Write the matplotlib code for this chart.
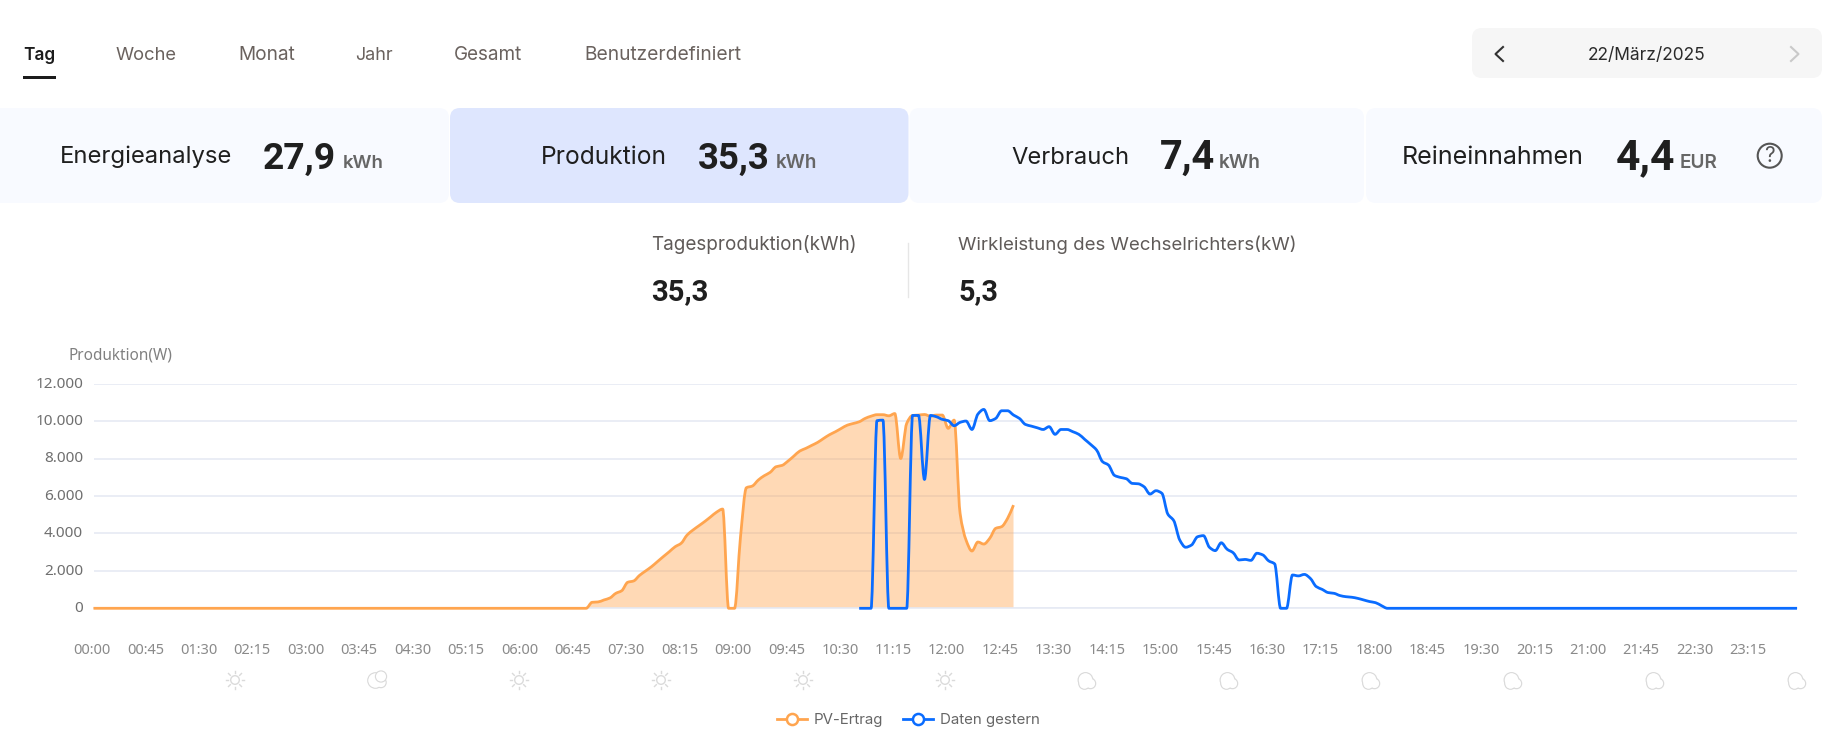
import numpy as np
import matplotlib
matplotlib.use("Agg")
import matplotlib.pyplot as plt
from matplotlib.patches import FancyBboxPatch, Circle, Rectangle, PathPatch
from matplotlib.path import Path
from matplotlib.lines import Line2D
from matplotlib.ticker import FuncFormatter
from matplotlib.transforms import ScaledTranslation

W, H = 1837, 738
DPI = 100

# ---------- data ----------
STEP_MIN = 5
pv_leading_zeros = [0] * 83            # 00:00 .. 06:50
pv_day = [0, 320, 340, 445, 550, 800, 940, 1390, 1460, 1760, 1990, 2220, 2490, 2760,
          3020, 3290, 3470, 3910, 4180, 4410, 4640, 4890, 5140, 5300, 0, 0, 3800, 6440,
          6530, 6850, 7080, 7260, 7560, 7630, 7860, 8130, 8400, 8540, 8700, 8860, 9070,
          9270, 9430, 9610, 9780, 9870, 9960, 10140, 10260, 10340, 10340, 10280, 10400,
          8000, 9870, 10300, 10320, 10350, 10260, 10320, 10320, 9610, 10050, 5070, 3650,
          3060, 3540, 3430, 3740, 4270, 4360, 4800, 5510]
pv_values = pv_leading_zeros + pv_day

yesterday_start_index = 129            # 10:45
yesterday_day = [0, 0, 0, 10020, 10050, 0, 0, 0, 0, 10300, 10300, 6880, 10300, 10230,
                 10090, 10020, 9750, 9930, 10000, 9550, 10370, 10620, 10020, 10140,
                 10550, 10550, 10320, 10140, 9820, 9730, 9640, 9550, 9700, 9290, 9550,
                 9550, 9430, 9290, 9020, 8750, 8450, 7830, 7650, 7100, 6990, 6920, 6670,
                 6650, 6490, 6100, 6280, 6140, 5030, 4680, 3650, 3260, 3380, 3820, 3880,
                 3260, 3080, 3500, 3150, 2970, 2580, 2610, 2560, 2940, 2850, 2530, 2370,
                 0, 0, 1780, 1730, 1810, 1600, 1160, 1010, 840, 800, 680, 620, 590, 530,
                 445, 360, 300, 140, 0]
yesterday_trailing_zeros = [0] * 69    # 18:10 .. 23:50
yesterday_values = yesterday_day + yesterday_trailing_zeros

x_tick_labels = ["00:00", "00:45", "01:30", "02:15", "03:00", "03:45", "04:30", "05:15",
                 "06:00", "06:45", "07:30", "08:15", "09:00", "09:45", "10:30", "11:15",
                 "12:00", "12:45", "13:30", "14:15", "15:00", "15:45", "16:30", "17:15",
                 "18:00", "18:45", "19:30", "20:15", "21:00", "21:45", "22:30", "23:15"]
y_ticks = [0, 2000, 4000, 6000, 8000, 10000, 12000]
weather = ["sun", "moon", "sun", "sun", "sun", "sun", "cloud", "cloud", "cloud", "cloud",
           "cloud", "cloud"]

tabs = ["Tag", "Woche", "Monat", "Jahr", "Gesamt", "Benutzerdefiniert"]
date_text = "22/März/2025"
series_names = ["PV-Ertrag", "Daten gestern"]

# ---------- style ----------
ORANGE = "#FFA54F"
BLUE = "#0A6CFF"
GRID = "#E6EAF4"
HEAD = "Inter"
BODY = "Noto Sans"
NUM = "Roboto"

plt.rcParams["font.family"] = [BODY, "DejaVu Sans"]
fig = plt.figure(figsize=(W / DPI, H / DPI), dpi=DPI, facecolor="white")
renderer = fig.canvas.get_renderer()

bg = fig.add_axes([0, 0, 1, 1], zorder=0)
bg.set_xlim(0, W)
bg.set_ylim(H, 0)
bg.axis("off")


def fit(text, x0, x1, base, color="#222222", weight="normal", family=HEAD, size=16):
    """Real text, scaled so it spans x0..x1 pixels with its baseline at `base`."""
    t = bg.text(x0, base, text, color=color, fontweight=weight, family=family,
                fontsize=size, ha="left", va="baseline")
    w = t.get_window_extent(renderer).width
    t.set_fontsize(size * (x1 - x0) / w)
    return t


def card(x0, x1, y0, y1, color, r=10):
    bg.add_patch(FancyBboxPatch((x0, y0), x1 - x0, y1 - y0,
                                boxstyle=f"round,pad=0,rounding_size={r}",
                                fc=color, ec="none"))


# tabs
tab_spans = [(23, 55), (115.6, 177), (238, 295), (355, 393), (453.6, 522), (584, 742)]
for i, (name, (a, b)) in enumerate(zip(tabs, tab_spans)):
    fit(name, a, b, 60, color="#1c1c1c" if i == 0 else "#6a625e",
        weight="semibold" if i == 0 else "normal")
bg.add_patch(Rectangle((23, 76), 33, 3, fc="#1c1c1c", ec="none"))

# date picker
card(1472, 1822, 28, 78, "#F6F6F6")
fit(date_text, 1588, 1706, 60, color="#2a2a2a")
bg.add_line(Line2D([1503, 1495.5, 1503], [47, 54, 61], color="#333333", lw=1.5))
bg.add_line(Line2D([1791, 1798.5, 1791], [47, 54, 61], color="#C9C9C9", lw=1.5))

# summary cards
card(-20, 449, 108, 203, "#F8FAFF")
card(450, 908.5, 108, 203, "#DEE6FE")
card(909.5, 1364, 108, 203, "#F8FAFF")
card(1366, 1822, 108, 203, "#F8FAFF")
cards = [("Energieanalyse", (60, 233), "27,9", (263, 336), "kWh", (343, 384)),
         ("Produktion", (540.5, 667), "35,3", (698, 770), "kWh", (776, 817.5)),
         ("Verbrauch", (1011.5, 1129.4), "7,4", (1159.4, 1214.5), "kWh", (1219, 1261)),
         ("Reineinnahmen", (1401.7, 1584.8), "4,4", (1616, 1675), "EUR", (1680, 1718))]
for label, ls, num, ns, unit, us in cards:
    fit(label, ls[0], ls[1], 163.5, color="#1f1f1f")
    fit(num, ns[0], ns[1], 169, color="#1f1f1f", weight="bold", family=NUM)
    fit(unit, us[0], us[1], 168.5, color="#666666", weight="semibold")
bg.add_patch(Circle((1769.7, 155.7), 12, fc="none", ec="#555555", lw=1.5))
bg.text(1769.7, 156, "?", color="#555555", fontsize=15, ha="center", va="center", family=HEAD)

# sub header
fit("Tagesproduktion(kWh)", 651.4, 857, 250, color="#5f5a58")
fit("35,3", 651.4, 709, 300, color="#1f1f1f", weight="bold", family=NUM)
bg.add_line(Line2D([908, 908], [243, 297], color="#E6E6E6", lw=1))
fit("Wirkleistung des Wechselrichters(kW)", 958, 1297, 250, color="#5f5a58")
fit("5,3", 958, 998, 300, color="#1f1f1f", weight="bold", family=NUM)
fit("Produktion(W)", 68, 172, 360, color="#808080", family=BODY)

# weather icons
ICON = "#DADADA"


def sun(cx, cy):
    bg.add_patch(Circle((cx, cy), 4.3, fc="none", ec=ICON, lw=1))
    for k in range(8):
        a = np.pi * k / 4
        bg.add_line(Line2D([cx + 6.6 * np.cos(a), cx + 9.2 * np.cos(a)],
                           [cy + 6.6 * np.sin(a), cy + 9.2 * np.sin(a)], color=ICON, lw=1))


def blobs_outline(blobs, z=2):
    for x, y, r in blobs:
        bg.add_patch(Circle((x, y), r, fc="none", ec=ICON, lw=1.1, zorder=z))
    for x, y, r in blobs:
        bg.add_patch(Circle((x, y), r - 0.45, fc="white", ec="none", zorder=z + 1))


def cloud(cx, cy):
    blobs_outline([(cx - 1.5, cy - 1, 7.2), (cx + 3.5, cy + 2.5, 5.0), (cx - 2.5, cy + 2.5, 5.6)])


def moon_cloud(cx, cy):
    blobs_outline([(cx - 2, cy + 0.5, 7.6), (cx + 3.5, cy + 2.5, 5.0)])
    blobs_outline([(cx + 3.5, cy - 3.5, 5.4)], z=4)


for i, kind in enumerate(weather):
    cx = 235 + i * 142
    if kind == "sun":
        sun(cx, 680)
    elif kind == "moon":
        moon_cloud(cx + 0.5, 680)
    else:
        cloud(cx, 681)


# ---------- chart ----------
def smooth_path(t, v):
    """Monotone cubic Bezier through exactly the given points (like a smoothed web-chart line)."""
    t = np.asarray(t, float)
    v = np.asarray(v, float)
    h = np.diff(t)
    d = np.diff(v) / h
    m = np.zeros_like(v)
    for i in range(1, len(v) - 1):
        if d[i - 1] * d[i] > 0:
            m[i] = 2 * d[i - 1] * d[i] / (d[i - 1] + d[i])
    m[0], m[-1] = d[0], d[-1]
    verts = [(t[0], v[0])]
    codes = [Path.MOVETO]
    for i in range(len(h)):
        verts += [(t[i] + h[i] / 3, v[i] + m[i] * h[i] / 3),
                  (t[i + 1] - h[i] / 3, v[i + 1] - m[i + 1] * h[i] / 3),
                  (t[i + 1], v[i + 1])]
        codes += [Path.CURVE4] * 3
    return verts, codes


AX_L, AX_R, AX_T, AX_B = 93.5, 1797, 383.6, 608.3
ax = fig.add_axes([AX_L / W, 1 - AX_B / H, (AX_R - AX_L) / W, (AX_B - AX_T) / H], zorder=2)
ax.patch.set_alpha(0)

pv_t = np.arange(len(pv_values)) * STEP_MIN
y_t = (yesterday_start_index + np.arange(len(yesterday_values))) * STEP_MIN

pv_verts, pv_codes = smooth_path(pv_t, pv_values)
fill_verts = pv_verts + [(pv_t[-1], 0), (pv_t[0], 0), (pv_t[0], 0)]
fill_codes = pv_codes + [Path.LINETO, Path.LINETO, Path.CLOSEPOLY]
ax.add_patch(PathPatch(Path(fill_verts, fill_codes), fc=ORANGE, alpha=0.42, ec="none", zorder=2))
ax.add_patch(PathPatch(Path(pv_verts, pv_codes), fc="none", ec=ORANGE, lw=2.0,
                       joinstyle="round", capstyle="butt", clip_on=False, zorder=3))
y_verts, y_codes = smooth_path(y_t, yesterday_values)
ax.add_patch(PathPatch(Path(y_verts, y_codes), fc="none", ec=BLUE, lw=2.0,
                       joinstyle="round", capstyle="butt", clip_on=False, zorder=4))

ax.set_xlim(0, 1435)
ax.set_ylim(0, 12000)
ax.set_yticks(y_ticks)
ax.yaxis.set_major_formatter(FuncFormatter(lambda v, _: f"{int(v):,}".replace(",", ".")))
ax.set_xticks(np.arange(len(x_tick_labels)) * 45)
ax.set_xticklabels(x_tick_labels)
ax.tick_params(axis="x", length=0, pad=25.3, labelsize=10.5, labelcolor="#8a8a8a")
ax.tick_params(axis="y", length=0, pad=7.5, labelsize=11, labelcolor="#6f6f6f")
for lab in ax.get_xticklabels():
    lab.set_transform(lab.get_transform() + ScaledTranslation(-1.5 / DPI, 0, fig.dpi_scale_trans))
for lab in ax.get_yticklabels():
    lab.set_transform(lab.get_transform() + ScaledTranslation(0, 1.5 / DPI, fig.dpi_scale_trans))
ax.grid(axis="y", color=GRID, lw=1.2, zorder=1)
ax.set_axisbelow(True)
for s in ["top", "right", "left"]:
    ax.spines[s].set_visible(False)
ax.spines["bottom"].set_color(GRID)
ax.spines["bottom"].set_linewidth(1.2)

handles = [Line2D([], [], color=c, lw=2, marker="o", ms=8, mfc="white", mec=c, mew=1.8)
           for c in (ORANGE, BLUE)]
fig.legend(handles, series_names, loc="center", bbox_to_anchor=(908 / W, 1 - 720 / H),
           ncol=2, frameon=False, prop={"family": HEAD, "size": 10.8}, labelcolor="#666666",
           handlelength=2.0, handletextpad=0.46, columnspacing=1.33)

fig.savefig("out.png", dpi=DPI, facecolor="white")
